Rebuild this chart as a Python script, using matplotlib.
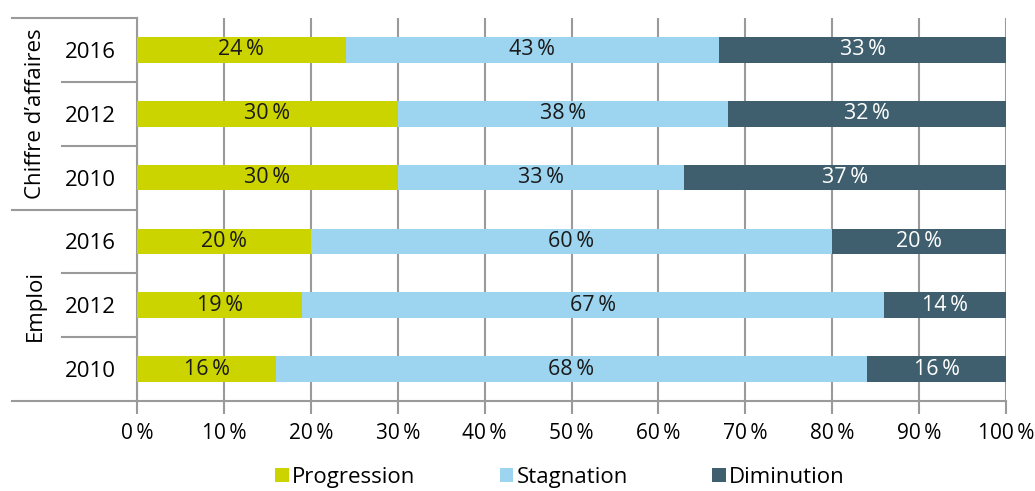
import matplotlib.pyplot as plt
import numpy as np

plt.rcParams['font.family'] = ['Open Sans', 'DejaVu Sans']

groups = ['Chiffre d\u2019affaires', 'Emploi']
years = ['2016', '2012', '2010', '2016', '2012', '2010']
series_names = ['Progression', 'Stagnation', 'Diminution']
progression = [24, 30, 30, 20, 19, 16]
stagnation = [43, 38, 33, 60, 67, 68]
diminution = [33, 32, 37, 20, 14, 16]
xticks = [0, 10, 20, 30, 40, 50, 60, 70, 80, 90, 100]

colors = ['#CCD400', '#9DD4EF', '#3F5F6E']
text_colors = ['#1a1a1a', '#1a1a1a', 'white']
grey = '#9a9a9a'
sp = '\u2009'

fig = plt.figure(figsize=(10.35, 4.91), dpi=100)
ax = fig.add_axes([0.1324, 0.1833, 0.8396, 0.78])

y = np.arange(len(years))
left = np.zeros(len(years))
for vals, name, c, tc in zip([progression, stagnation, diminution], series_names, colors, text_colors):
    vals = np.array(vals, dtype=float)
    ax.barh(y, vals, left=left, height=0.4, color=c, label=name, zorder=3)
    for yi, l, v in zip(y, left, vals):
        ax.text(l + v / 2, yi, f'{int(v)}{sp}%', ha='center', va='center',
                fontsize=15.5, color=tc, zorder=4)
    left += vals

ax.set_xlim(0, 100)
ax.set_ylim(len(years) - 0.5, -0.5)
ax.set_xticks(xticks)
ax.set_xticklabels([f'{t}{sp}%' for t in xticks], fontsize=15)
ax.set_yticks(y)
ax.set_yticklabels(years, fontsize=16)
ax.tick_params(axis='y', length=0, pad=15)
ax.tick_params(axis='x', length=9, width=1.5, color=grey, pad=7)
ax.grid(axis='x', color=grey, linewidth=1.5, zorder=0)

for s in ['top', 'right']:
    ax.spines[s].set_visible(False)
for s in ['left', 'bottom']:
    ax.spines[s].set_color(grey)
    ax.spines[s].set_linewidth(1.5)

# table-style separators on the left
tr = ax.get_yaxis_transform()
x_long = -0.1438
x_short = -0.0863
for b in [-0.5, 2.5, 5.5]:
    ax.plot([x_long, 0], [b, b], transform=tr, color=grey, lw=1.5, clip_on=False)
for b in [0.5, 1.5, 3.5, 4.5]:
    ax.plot([x_short, 0], [b, b], transform=tr, color=grey, lw=1.5, clip_on=False)

ax.text(-0.117, 1, groups[0], transform=tr, rotation=90, ha='center', va='center', fontsize=16)
ax.text(-0.117, 4, groups[1], transform=tr, rotation=90, ha='center', va='center', fontsize=16)

handles, labels = ax.get_legend_handles_labels()
fig.legend(handles, labels, loc='center', bbox_to_anchor=(0.541, 0.028), ncol=3,
           frameon=False, fontsize=16, handlelength=0.6, handleheight=0.6,
           handletextpad=0.15, columnspacing=3.8, borderpad=0.2)

fig.savefig('out.png', dpi=100)
